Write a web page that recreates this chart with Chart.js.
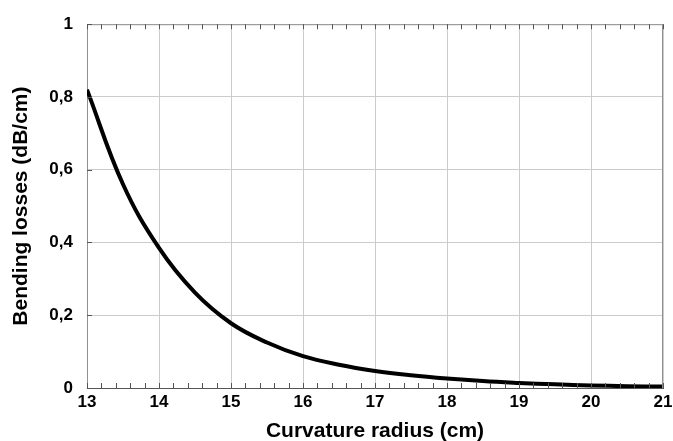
<!DOCTYPE html>
<html>
<head>
<meta charset="utf-8">
<script src="https://cdn.jsdelivr.net/npm/chart.js@4"></script>
<style>
  html, body { margin: 0; padding: 0; background: #fff; }
  #wrap { width: 673px; height: 441px; }
</style>
</head>
<body>
<div id="wrap"><canvas id="chartLosses"></canvas></div>
<script>
// curvature radius (cm) and bending losses (dB/cm)
const radius = [13, 13.5, 14, 14.5, 15, 15.5, 16, 16.5, 17, 17.5, 18, 18.5, 19, 19.5, 20, 20.5, 21];
const losses = [0.82, 0.56, 0.385, 0.262, 0.178, 0.125, 0.0875, 0.064, 0.047, 0.035, 0.026, 0.019, 0.014, 0.010, 0.007, 0.005, 0.004];

const yTicks = [0, 0.2, 0.4, 0.6, 0.8, 1];
const xMinorStep = 0.2;

const FONT = 'Arial, "Liberation Sans", sans-serif';
const fmt = v => (v === 0 || v === 1) ? String(v) : v.toFixed(1).replace('.', ',');

// frame + small inward ticks like a spreadsheet plot
const frameTicks = {
  id: 'frameTicks',
  afterDatasetsDraw(chart) {
    const { ctx, chartArea: a, scales: { x, y } } = chart;
    ctx.save();
    ctx.strokeStyle = '#909090';
    ctx.lineWidth = 1;
    ctx.beginPath();
    ctx.moveTo(a.left, a.top + 0.5); ctx.lineTo(a.right, a.top + 0.5);
    ctx.moveTo(a.right - 0.5, a.top); ctx.lineTo(a.right - 0.5, a.bottom);
    ctx.stroke();

    ctx.strokeStyle = '#555';
    ctx.beginPath();
    for (let v = x.min; v <= x.max + 1e-9; v += xMinorStep) {
      const px = Math.round(x.getPixelForValue(v)) + 0.5;
      ctx.moveTo(px, a.bottom); ctx.lineTo(px, a.bottom - 5);
      ctx.moveTo(px, a.top); ctx.lineTo(px, a.top + 5);
    }
    yTicks.forEach(v => {
      const py = Math.round(y.getPixelForValue(v)) + 0.5;
      ctx.moveTo(a.left, py); ctx.lineTo(a.left + 5, py);
    });
    ctx.stroke();
    ctx.restore();
  }
};

new Chart(document.getElementById('chartLosses'), {
  type: 'line',
  data: {
    datasets: [{
      data: radius.map((r, i) => ({ x: r, y: losses[i] })),
      borderColor: '#000',
      borderWidth: 4,
      pointRadius: 0,
      tension: 0.4,
      fill: false,
    }],
  },
  options: {
    responsive: true,
    maintainAspectRatio: false,
    animation: false,
    layout: { padding: { top: 22, right: 0, left: 0, bottom: 0 } },
    plugins: { legend: { display: false }, tooltip: { enabled: false } },
    scales: {
      x: {
        type: 'linear',
        min: 13, max: 21,
        ticks: { stepSize: 1, color: '#000', padding: 4, font: { family: FONT, size: 17, weight: 'bold' } },
        grid: { color: '#cccccc', drawTicks: false },
        border: { color: '#555', width: 1 },
        title: { display: true, text: 'Curvature radius (cm)', color: '#000', padding: { top: 6, bottom: -3 },
                 font: { family: FONT, size: 21, weight: 'bold' } },
        afterFit(s) { s.height = 53; s.paddingRight = 10; },
      },
      y: {
        min: 0, max: 1,
        ticks: { stepSize: 0.2, color: '#000', padding: 14, callback: fmt,
                 font: { family: FONT, size: 17, weight: 'bold' } },
        grid: { color: '#cccccc', drawTicks: false },
        border: { color: '#909090', width: 1 },
        title: { display: true, text: 'Bending losses (dB/cm)', color: '#000', padding: { top: 9, bottom: 0 },
                 font: { family: FONT, size: 21, weight: 'bold' } },
        afterFit(s) { s.width = 87; },
      },
    },
  },
  plugins: [frameTicks],
});
</script>
</body>
</html>
